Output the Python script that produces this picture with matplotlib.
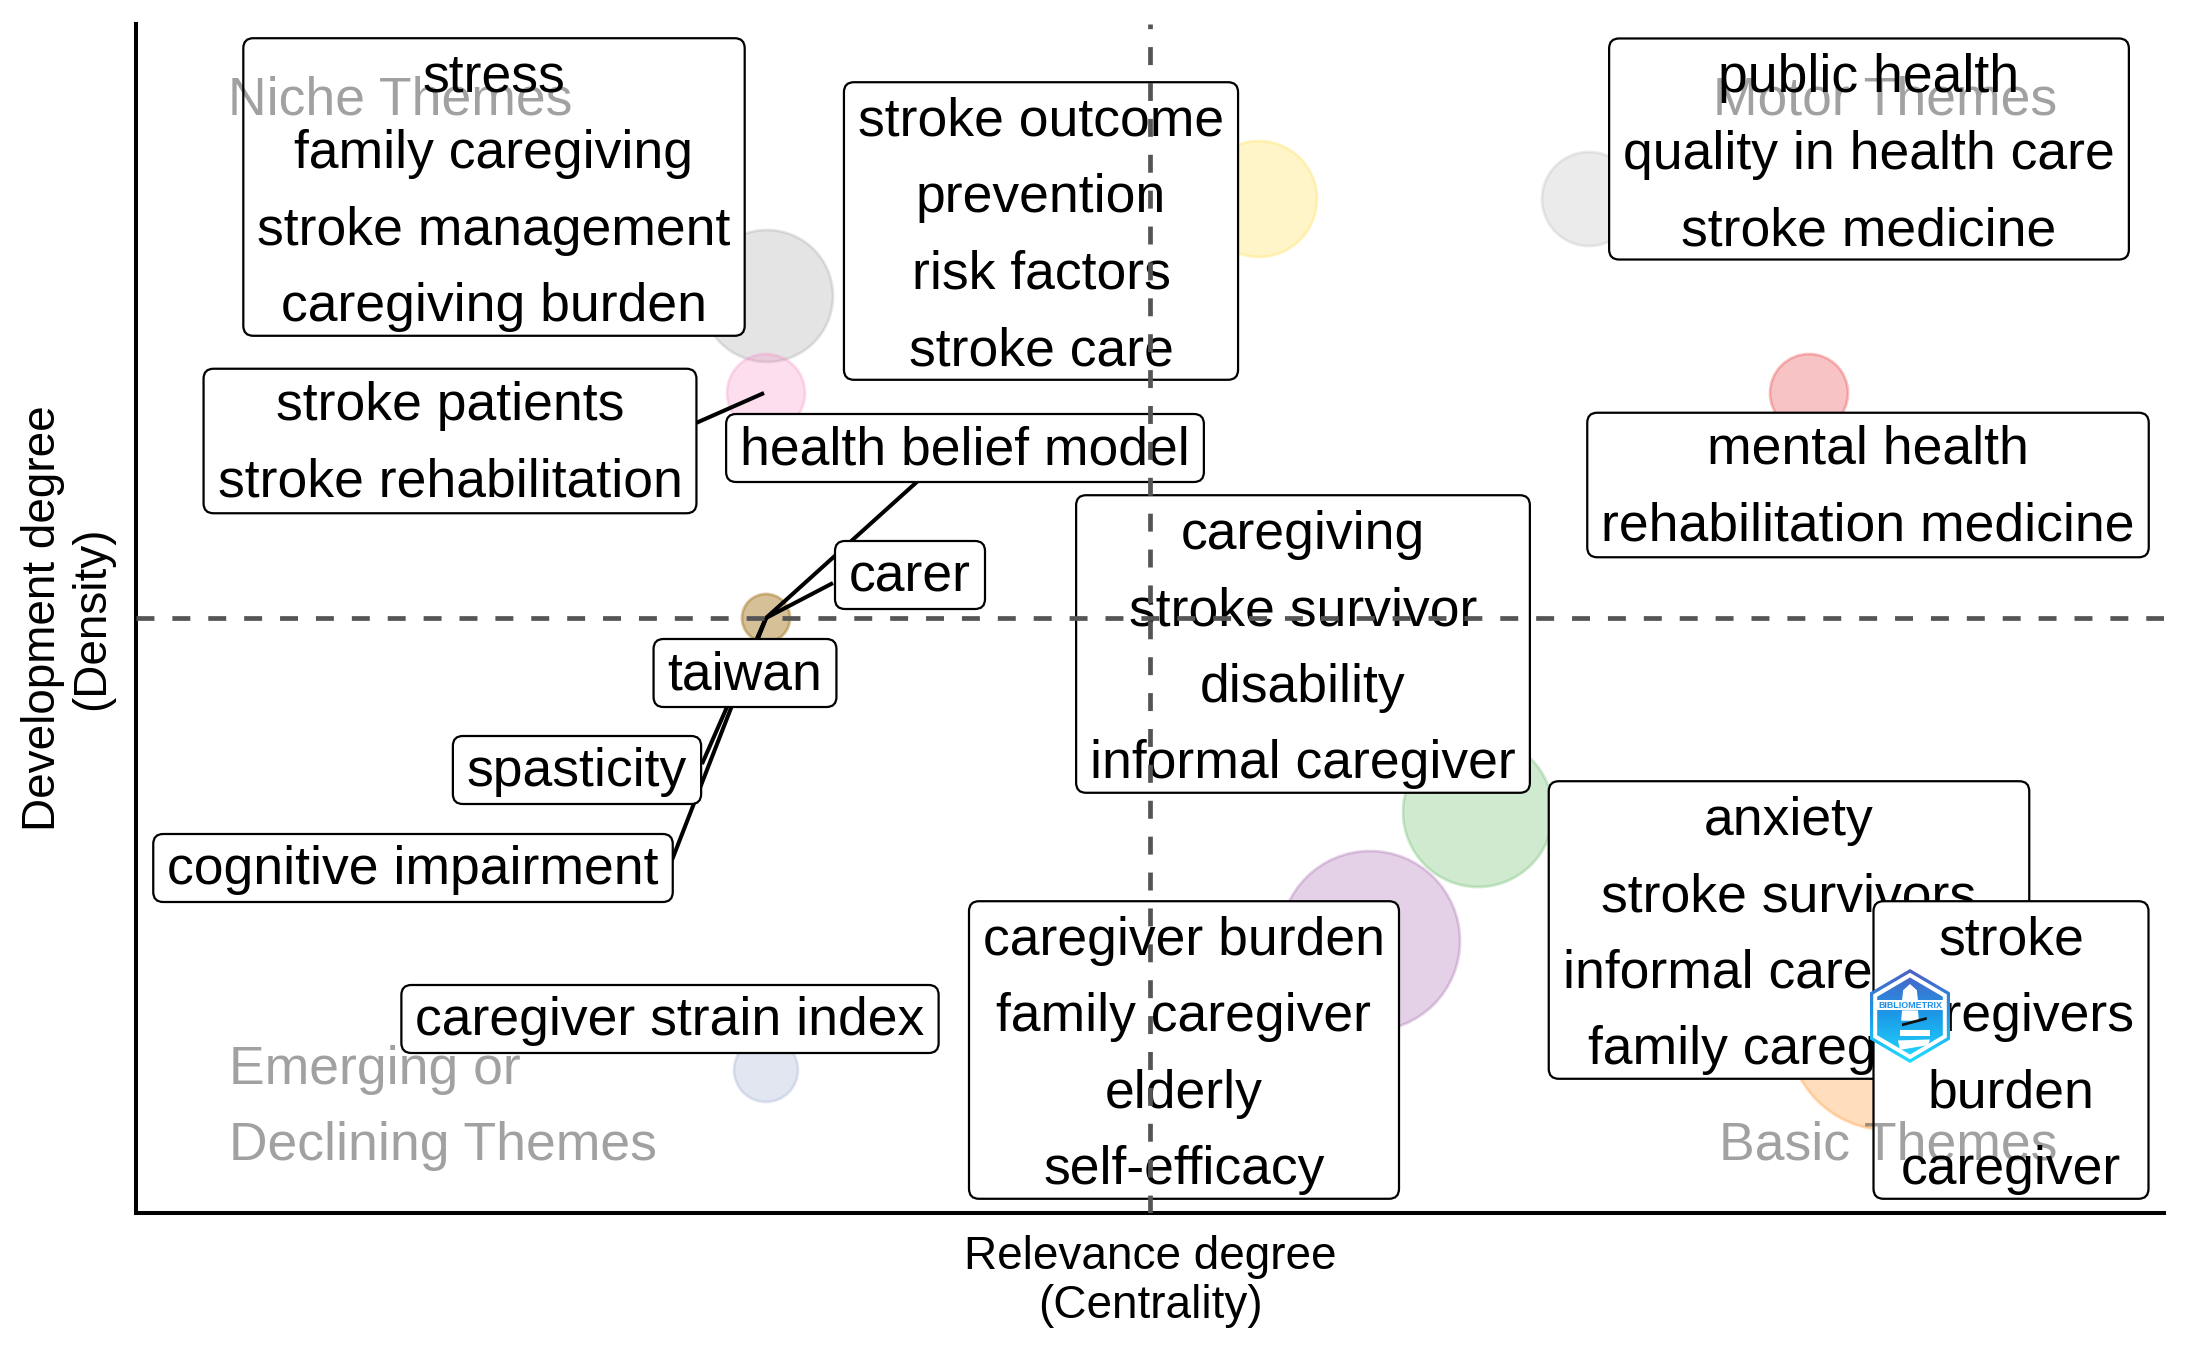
import matplotlib
matplotlib.use('Agg')
import matplotlib.pyplot as plt
import numpy as np
from matplotlib.patches import FancyBboxPatch, Polygon

plt.rcParams['font.family'] = ['Liberation Sans', 'DejaVu Sans']

# clusters, axis units follow the picture (the tan one is two clusters on the same spot)
centrality = [767, 766, 1259, 1589, 1809, 766, 766, 1478, 1370, 1888, 766]
density = [296, 393, 199, 199, 393, 618, 618, 812, 941, 1030, 1070]
diameter = [132, 78, 116, 94, 78, 48, 48, 150, 180, 200, 64]
colors = ['#999999', '#F781BF', '#FFD92F', '#B3B3B3', '#E41A1C',
          '#A6761D', '#A6761D', '#4DAF4A', '#984EA3', '#FF7F00', '#8DA0CB']

labels = ['health belief model',
          'cognitive impairment',
          'spasticity',
          'stroke patients\nstroke rehabilitation',
          'carer',
          'taiwan',
          'caregiver strain index',
          'stress\nfamily caregiving\nstroke management\ncaregiving burden',
          'stroke outcome\nprevention\nrisk factors\nstroke care',
          'public health\nquality in health care\nstroke medicine',
          'mental health\nrehabilitation medicine',
          'caregiving\nstroke survivor\ndisability\ninformal caregiver',
          'caregiver burden\nfamily caregiver\nelderly\nself-efficacy',
          'anxiety\nstroke survivors\ninformal caregivers\nfamily caregivers',
          'stroke\ncaregivers\nburden\ncaregiver']
label_x = [965, 413, 577, 450, 910, 745, 670, 494, 1041, 1869, 1868, 1303, 1184, 1789, 2011]
label_y = [448, 868, 770, 441, 575, 673, 1019, 187, 231, 149, 485, 644, 1050, 930, 1050]

# leader lines: where they leave the box and where they end
seg_x0 = [919, 672, 702, 696, 833, 758]
seg_y0 = [480, 860, 764, 423, 583, 637]
seg_x1 = [766, 766, 766, 764, 766, 766]
seg_y1 = [618, 618, 618, 393, 618, 618]

x_mid = 1150
y_mid = 618

fig = plt.figure(figsize=(21.87, 13.5), dpi=100)
ax = fig.add_axes([136 / 2187, 1 - 1213 / 1350, (2164 - 136) / 2187, (1213 - 24) / 1350])
ax.set_xlim(136, 2164)
ax.set_ylim(1213, 24)
ax.set_xticks([])
ax.set_yticks([])
for s in ['top', 'right']:
    ax.spines[s].set_visible(False)
for s in ['left', 'bottom']:
    ax.spines[s].set_linewidth(2.9)

ax.scatter(centrality, density, s=[(d * 0.72) ** 2 for d in diameter], c=colors,
           alpha=0.26, linewidths=2, edgecolors=colors, zorder=2)

fig.canvas.draw()
rend = fig.canvas.get_renderer()
inv = ax.transData.inverted()
z = 3
for i, lab in enumerate(labels):
    if i < len(seg_x0):
        ax.plot([seg_x0[i], seg_x1[i]], [seg_y0[i], seg_y1[i]], color='black', lw=2.9,
                solid_capstyle='butt', zorder=z)
    t = ax.text(label_x[i], label_y[i], lab, fontsize=38.5, ha='center', va='center',
                multialignment='center', linespacing=1.68, color='black', zorder=z + 2)
    bb = t.get_window_extent(rend)
    (x0, y0), (x1, y1) = inv.transform([(bb.x0, bb.y0), (bb.x1, bb.y1)])
    ax.add_patch(FancyBboxPatch((x0 - 7, y1 - 2), x1 - x0 + 14, y0 - y1 + 4,
                                boxstyle='round,pad=7,rounding_size=10',
                                fc='white', ec='black', lw=1.6, zorder=z + 1,
                                mutation_aspect=1))
    # text sits a little low in the box, more with more lines
    n = lab.count('\n')
    t.set_y(label_y[i] + (2 if n == 0 else 3 if n == 1 else 5.5))
    z += 3

ax.axvline(x_mid, color='#555555', lw=3.4, linestyle=(0, (3.8, 3.8)), zorder=200)
ax.axhline(y_mid, color='#555555', lw=3.4, linestyle=(0, (3.8, 3.8)), zorder=200)

grey = dict(fontsize=38.5, color='black', alpha=0.37, zorder=210, va='center')
ax.text(400, 100, 'Niche Themes', ha='center', **grey)
ax.text(1885, 100, 'Motor Themes', ha='center', **grey)
ax.text(229, 1108, 'Emerging or\nDeclining Themes', ha='left', linespacing=1.68, **grey)
ax.text(1888, 1145, 'Basic Themes', ha='center', **grey)

ax.set_xlabel('Relevance degree\n(Centrality)', fontsize=33, labelpad=16, linespacing=1.15)
ax.set_ylabel('Development degree\n(Density)', fontsize=33, labelpad=15.5, linespacing=1.15)

# small logo in the corner of the stroke box
logo = fig.add_axes([1870 / 2187, 1 - 1063 / 1350, 80 / 2187, 94 / 1350], zorder=300)
logo.set_xlim(-1, 1)
logo.set_ylim(-1, 1)
logo.axis('off')
ramp = np.linspace(0, 1, 64).reshape(-1, 1)
cm = matplotlib.colors.LinearSegmentedColormap.from_list('logo', ['#4F5FC4', '#1B9BE8', '#22DDFF'])
hx = np.array([0, 1, 1, 0, -1, -1])
hy = np.array([1, 0.5, -0.5, -1, -0.5, 0.5])
im = logo.imshow(ramp, cmap=cm, extent=[-1, 1, -1, 1], aspect='auto', zorder=1)
im.set_clip_path(Polygon(np.c_[hx, hy], transform=logo.transData))
logo.add_patch(Polygon(np.c_[hx * 0.92, hy * 0.92], fc='white', ec='none', zorder=2))
im2 = logo.imshow(ramp, cmap=cm, extent=[-1, 1, -1, 1], aspect='auto', zorder=3)
im2.set_clip_path(Polygon(np.c_[hx * 0.82, hy * 0.82], transform=logo.transData))
logo.add_patch(Polygon([(-0.85, 0.33), (0.85, 0.33), (0.85, 0.12), (-0.85, 0.12)], fc='white', ec='none', zorder=4))
logo.add_patch(Polygon([(-0.17, 0.55), (0, 0.68), (0.17, 0.55), (0.2, 0.33), (-0.2, 0.33)], fc='white', ec='none', zorder=4))
logo.add_patch(Polygon([(-0.2, 0.12), (0.2, 0.12), (0.22, -0.1), (-0.22, -0.1)], fc='white', ec='none', zorder=4))
logo.add_patch(Polygon([(-0.25, -0.3), (0.5, -0.3), (0.5, -0.42), (-0.25, -0.42)], fc='white', ec='none', zorder=4))
logo.add_patch(Polygon([(-0.3, -0.52), (0.5, -0.5), (0.45, -0.62), (-0.25, -0.72)], fc='white', ec='none', zorder=4))
logo.add_patch(Polygon([(-0.2, -0.16), (0.42, -0.02), (0.42, -0.08), (-0.2, -0.22)], fc='#111111', ec='none', zorder=5))
logo.text(0, 0.22, 'BIBLIOMETRIX', fontsize=6.4, fontweight='bold', color='#1B8FE8',
          ha='center', va='center', zorder=6)

fig.savefig('out.png', dpi=100)
